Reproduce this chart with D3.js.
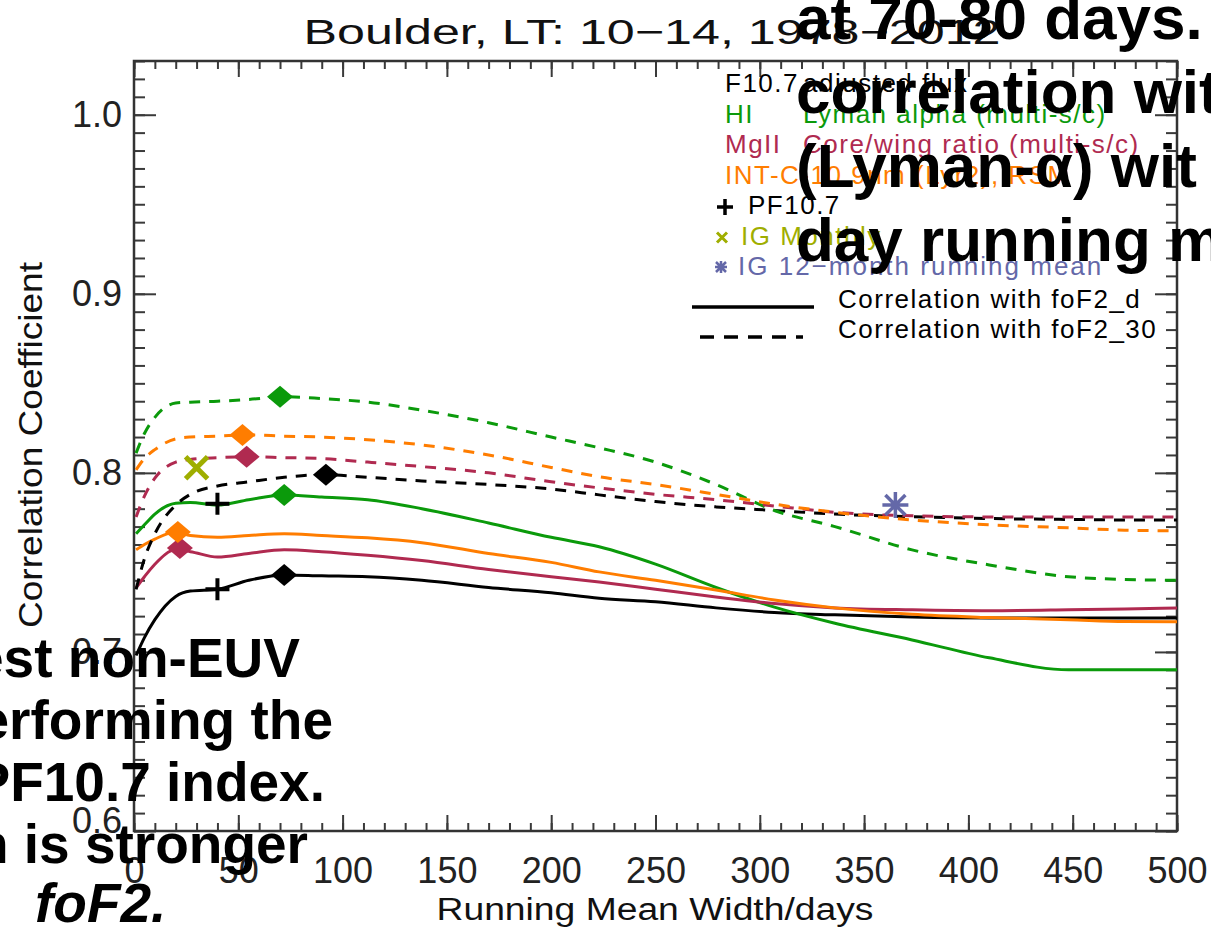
<!DOCTYPE html>
<html>
<head>
<meta charset="utf-8">
<script src="https://cdn.jsdelivr.net/npm/d3@7"></script>
<style>
  body { margin: 0; background: #fff; }
  text { font-family: "Liberation Sans", Arial, sans-serif; }
  .axis line { stroke: #3a3a3a; stroke-width: 2; }
  .axis path.domain { display: none; }
  .axis text { font-size: 36px; fill: #222; }
</style>
</head>
<body>
<div id="chart"></div>
<script>
// running mean widths (days) the curves are sampled at
let widths = [1, 5, 10, 20, 27, 40, 55, 72, 90, 112, 138, 170, 200, 223, 250, 279, 307, 336, 373, 410, 448, 475, 500];

let indexNames = ["F10.7", "HI", "MgII", "INT-C"];
let indexColors = ["#000000", "#0b9a0b", "#b02a50", "#ff7d00"];

// correlation with foF2_d (solid)
let f107Daily = [0.698, 0.708, 0.718, 0.731, 0.734, 0.735, 0.740, 0.743, 0.7425, 0.742, 0.740, 0.736, 0.733, 0.730, 0.728, 0.7246, 0.722, 0.7207, 0.7195, 0.719, 0.719, 0.719, 0.719];
let hiDaily   = [0.766, 0.771, 0.777, 0.783, 0.7835, 0.782, 0.785, 0.7877, 0.7865, 0.785, 0.780, 0.772, 0.764, 0.7587, 0.749, 0.736, 0.725, 0.716, 0.7067, 0.6967, 0.690, 0.690, 0.690];
let mgDaily   = [0.7358, 0.742, 0.749, 0.757, 0.756, 0.753, 0.755, 0.757, 0.756, 0.754, 0.751, 0.746, 0.742, 0.739, 0.735, 0.7307, 0.727, 0.7246, 0.7235, 0.723, 0.7235, 0.724, 0.7246];
let intDaily  = [0.757, 0.760, 0.763, 0.767, 0.765, 0.764, 0.765, 0.766, 0.765, 0.7637, 0.761, 0.755, 0.750, 0.7447, 0.740, 0.7346, 0.729, 0.7246, 0.721, 0.7192, 0.718, 0.717, 0.7168];

// correlation with foF2_30 (dashed)
let f107Month = [0.735, 0.752, 0.766, 0.782, 0.788, 0.7927, 0.795, 0.7975, 0.799, 0.7975, 0.7955, 0.7935, 0.791, 0.7877, 0.784, 0.781, 0.779, 0.777, 0.7755, 0.7745, 0.774, 0.7737, 0.7737];
let hiMonth   = [0.811, 0.822, 0.831, 0.839, 0.8395, 0.840, 0.841, 0.8425, 0.8415, 0.8395, 0.835, 0.828, 0.820, 0.814, 0.806, 0.7935, 0.779, 0.770, 0.757, 0.7486, 0.742, 0.7405, 0.740];
let mgMonth   = [0.7754, 0.787, 0.797, 0.806, 0.8075, 0.8085, 0.809, 0.8085, 0.808, 0.806, 0.8035, 0.800, 0.795, 0.7916, 0.788, 0.785, 0.7815, 0.778, 0.776, 0.7754, 0.7754, 0.7754, 0.7754];
let intMonth  = [0.8017, 0.808, 0.813, 0.819, 0.820, 0.8205, 0.8212, 0.8205, 0.820, 0.8185, 0.8156, 0.810, 0.803, 0.7978, 0.7935, 0.788, 0.7825, 0.778, 0.7737, 0.771, 0.7693, 0.768, 0.7676];

// best width for each index (diamonds)
let peakDailyWidth = [72, 72, 22, 21];
let peakDailyValue = [0.743, 0.7877, 0.758, 0.767];
let peakMonthWidth = [92, 70, 54, 52];
let peakMonthValue = [0.799, 0.8425, 0.809, 0.8212];

// other indices, single points
let pfWidth = [40, 40];
let pfValue = [0.735, 0.7827];
let igMonthlyWidth = [30];
let igMonthlyValue = [0.8028];
let ig12Width = [365];
let ig12Value = [0.782];

let xTicks = [0, 50, 100, 150, 200, 250, 300, 350, 400, 450, 500];
let yTicks = [0.6, 0.7, 0.8, 0.9, 1.0];

let legendCodes = ["F10.7", "HI", "MgII", "INT-C-10.9nm (Lyr2), RSM"];
let legendDescs = ["adjusted flux", "Lyman alpha (multi-s/c)", "Core/wing ratio (multi-s/c)", ""];

let titleText = "Boulder, LT: 10\u221214, 1978\u22122012";

let slideLeft = ["est non-EUV", "erforming the", "PF10.7 index.", "n is stronger"];
let slideRight = ["at 70-80 days.", "correlation wit", "(Lyman-\u03b1) wit", "day running m"];

let svg;

window.onload = init();

function init() {
    svg = d3.select('#chart')
        .append('svg')
        .attr('width', 1211)
        .attr('height', 931);

    draw();
}

function draw() {
    var x = d3.scaleLinear().domain([0, 500]).range([134, 1177]);
    var y = d3.scaleLinear().domain([0.6, 1.03]).range([831, 61]);

    // axes, ticks point inwards like IDL
    svg.append('g').attr('class', 'axis').attr('transform', 'translate(0,831)')
        .call(d3.axisBottom(x).tickValues(d3.range(0, 501, 10)).tickSize(-8).tickSizeOuter(0).tickFormat(''));
    svg.append('g').attr('class', 'axis').attr('transform', 'translate(0,831)')
        .call(d3.axisBottom(x).tickValues(xTicks).tickSize(-16).tickSizeOuter(0).tickPadding(26).tickFormat(d3.format('d')));
    svg.append('g').attr('class', 'axis').attr('transform', 'translate(0,61)')
        .call(d3.axisTop(x).tickValues(d3.range(0, 501, 10)).tickSize(-8).tickSizeOuter(0).tickFormat(''));
    svg.append('g').attr('class', 'axis').attr('transform', 'translate(0,61)')
        .call(d3.axisTop(x).tickValues(xTicks).tickSize(-16).tickSizeOuter(0).tickFormat(''));

    var minorY = d3.range(60, 104).map(function (d) { return d / 100; });
    svg.append('g').attr('class', 'axis').attr('transform', 'translate(134,0)')
        .call(d3.axisLeft(y).tickValues(minorY).tickSize(-11).tickSizeOuter(0).tickFormat(''));
    var yAxis = svg.append('g').attr('class', 'axis').attr('transform', 'translate(134,0)')
        .call(d3.axisLeft(y).tickValues(yTicks).tickSize(-22).tickSizeOuter(0).tickPadding(12).tickFormat(d3.format('.1f')));
    yAxis.selectAll('text').filter(function (d) { return d === 0.6; }).attr('y', -10);
    svg.append('g').attr('class', 'axis').attr('transform', 'translate(1177,0)')
        .call(d3.axisRight(y).tickValues(minorY).tickSize(-11).tickSizeOuter(0).tickFormat(''));
    svg.append('g').attr('class', 'axis').attr('transform', 'translate(1177,0)')
        .call(d3.axisRight(y).tickValues(yTicks).tickSize(-22).tickSizeOuter(0).tickFormat(''));

    svg.append('rect')
        .attr('x', x(0)).attr('y', y(1.03))
        .attr('width', x(500) - x(0)).attr('height', y(0.6) - y(1.03))
        .attr('fill', 'none').attr('stroke', '#333').attr('stroke-width', 2.5);

    // title and axis titles
    svg.append('text').attr('x', 652).attr('y', 44)
        .attr('text-anchor', 'middle').attr('font-size', 35)
        .attr('textLength', 697).attr('lengthAdjust', 'spacingAndGlyphs')
        .style('fill', '#111').text(titleText);
    svg.append('text').attr('x', 655).attr('y', 920)
        .attr('text-anchor', 'middle').attr('font-size', 31)
        .attr('textLength', 437).attr('lengthAdjust', 'spacingAndGlyphs')
        .style('fill', '#111').text('Running Mean Width/days');
    svg.append('text').attr('transform', 'translate(42,445) rotate(-90)')
        .attr('text-anchor', 'middle').attr('font-size', 33)
        .attr('textLength', 366).attr('lengthAdjust', 'spacingAndGlyphs')
        .style('fill', '#111').text('Correlation Coefficient');

    // curves
    var daily = [f107Daily, hiDaily, mgDaily, intDaily];
    var monthly = [f107Month, hiMonth, mgMonth, intMonth];
    var line = d3.line()
        .x(function (d) { return x(d[0]); })
        .y(function (d) { return y(d[1]); })
        .curve(d3.curveMonotoneX);

    var plot = svg.append('g');

    plot.selectAll('path.daily')
        .data(daily)
        .enter()
        .append('path')
        .attr('class', 'daily')
        .attr('d', function (vals) { return line(d3.zip(widths, vals)); })
        .attr('fill', 'none')
        .attr('stroke', function (d, i) { return indexColors[i]; })
        .attr('stroke-width', 3);

    plot.selectAll('path.monthly')
        .data(monthly)
        .enter()
        .append('path')
        .attr('class', 'monthly')
        .attr('d', function (vals) { return line(d3.zip(widths, vals)); })
        .attr('fill', 'none')
        .attr('stroke', function (d, i) { return indexColors[i]; })
        .attr('stroke-width', 3)
        .attr('stroke-dasharray', '11,9');

    // diamonds at the best width
    var peaks = d3.zip(peakDailyWidth, peakDailyValue, indexColors)
        .concat(d3.zip(peakMonthWidth, peakMonthValue, indexColors));
    plot.selectAll('path.peak')
        .data(peaks)
        .enter()
        .append('path')
        .attr('class', 'peak')
        .attr('d', 'M0,-11L13,0L0,11L-13,0Z')
        .attr('transform', function (d) { return 'translate(' + x(d[0]) + ',' + y(d[1]) + ')'; })
        .attr('fill', function (d) { return d[2]; });

    plot.selectAll('path.pf')
        .data(d3.zip(pfWidth, pfValue))
        .enter()
        .append('path')
        .attr('d', 'M-12,0H12M0,-11V11')
        .attr('transform', function (d) { return 'translate(' + x(d[0]) + ',' + y(d[1]) + ')'; })
        .attr('stroke', '#000').attr('stroke-width', 4);

    plot.selectAll('path.igm')
        .data(d3.zip(igMonthlyWidth, igMonthlyValue))
        .enter()
        .append('path')
        .attr('d', 'M-11,-11L11,11M-11,11L11,-11')
        .attr('transform', function (d) { return 'translate(' + x(d[0]) + ',' + y(d[1]) + ')'; })
        .attr('stroke', '#9fae00').attr('stroke-width', 5);

    plot.selectAll('path.ig12')
        .data(d3.zip(ig12Width, ig12Value))
        .enter()
        .append('path')
        .attr('d', 'M-13,0H13M0,-13V13M-10,-10L10,10M-10,10L10,-10')
        .attr('transform', function (d) { return 'translate(' + x(d[0]) + ',' + y(d[1]) + ')'; })
        .attr('stroke', '#6468a8').attr('stroke-width', 3.5);

    drawLegend();
    drawSlideText();
}

function drawLegend() {
    var lg = svg.append('g').attr('font-size', 26).style('letter-spacing', '1.5px');
    var rowY = [92, 122.5, 153, 183.5, 214, 244.5, 275, 305.5, 336];

    legendCodes.forEach(function (c, i) {
        lg.append('text').attr('x', 725).attr('y', rowY[i])
            .style('fill', indexColors[i]).text(c);
        if (legendDescs[i]) {
            lg.append('text').attr('x', 803).attr('y', rowY[i])
                .style('fill', indexColors[i]).text(legendDescs[i]);
        }
    });

    lg.append('path').attr('d', 'M-8,0H8M0,-8V8')
        .attr('transform', 'translate(725,' + (rowY[4] - 7) + ')')
        .attr('stroke', '#000').attr('stroke-width', 3.5);
    lg.append('text').attr('x', 748).attr('y', rowY[4]).style('fill', '#000').text('PF10.7');

    lg.append('path').attr('d', 'M-5,-5L5,5M-5,5L5,-5')
        .attr('transform', 'translate(722,' + (rowY[5] - 7) + ')')
        .attr('stroke', '#9fae00').attr('stroke-width', 3);
    lg.append('text').attr('x', 741).attr('y', rowY[5]).style('fill', '#9fae00').text('IG Monthly');

    lg.append('path').attr('d', 'M-6,0H6M0,-6V6M-5,-5L5,5M-5,5L5,-5')
        .attr('transform', 'translate(721,' + (rowY[6] - 8) + ')')
        .attr('stroke', '#6468a8').attr('stroke-width', 2.5);
    lg.append('text').attr('x', 738).attr('y', rowY[6]).style('fill', '#6468a8')
        .style('letter-spacing', '2px').text('IG 12\u2212month running mean');

    lg.append('line').attr('x1', 692).attr('x2', 814).attr('y1', 307).attr('y2', 307)
        .attr('stroke', '#000').attr('stroke-width', 3.5);
    lg.append('text').attr('x', 838).attr('y', rowY[7] + 2).style('fill', '#000').text('Correlation with foF2_d');

    lg.append('line').attr('x1', 700).attr('x2', 803).attr('y1', 337).attr('y2', 337)
        .attr('stroke', '#000').attr('stroke-width', 3.5).attr('stroke-dasharray', '14,10');
    lg.append('text').attr('x', 838).attr('y', rowY[8] + 2).style('fill', '#000').text('Correlation with foF2_30');
}

function drawSlideText() {
    // bold slide text laid over the figure
    var st = svg.append('g').attr('font-weight', 'bold').style('fill', '#000');
    var leftEnd = [300, 333, 325, 308];
    slideLeft.forEach(function (t, i) {
        st.append('text').attr('x', leftEnd[i]).attr('y', 677 + i * 62)
            .attr('text-anchor', 'end').attr('font-size', 55).text(t);
    });
    st.append('text').attr('x', 35).attr('y', 922)
        .attr('font-size', 55).attr('font-style', 'italic').text('foF2.');

    slideRight.forEach(function (t, i) {
        st.append('text').attr('x', 796).attr('y', 39 + i * 74)
            .attr('font-size', 62).text(t);
    });
}
</script>
</body>
</html>
